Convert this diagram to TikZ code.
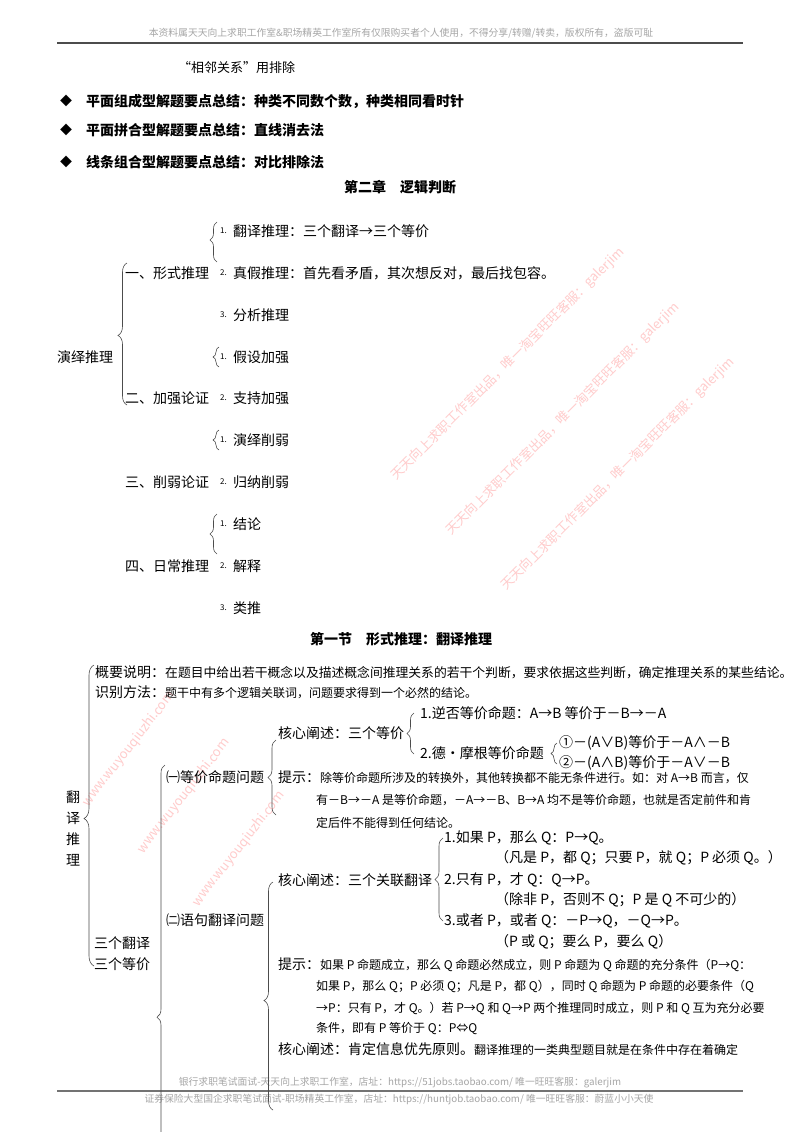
\documentclass[tikz,border=0pt]{standalone}
\usepackage{fontspec}
\setmainfont{Noto Sans CJK SC}
\usetikzlibrary{decorations.pathreplacing}
\newcommand\fs[1]{\fontsize{#1}{#1}\selectfont}
\tikzset{
 txt/.style={anchor=west, inner sep=0pt, font=\fs{14}},
 sml/.style={anchor=west, inner sep=0pt, font=\fs{12}},
 num/.style={anchor=west, inner sep=0pt, font=\fs{8}},
 head/.style={anchor=west, inner sep=0pt, font=\bfseries\fs{14}},
 brc/.style 2 args={decorate, decoration={brace, amplitude=#1, aspect=#2}, draw=black!70, line width=0.6pt},
 wmark/.style={anchor=east, inner sep=0pt, text=red!20, font=\fs{13}, rotate=45},
 wmurl/.style={anchor=west, inner sep=0pt, text=red!20, font=\fs{13}, rotate=52},
 graytxt/.style={inner sep=0pt, text=black!35, font=\fs{9.8}}
}
\begin{document}
\begin{tikzpicture}[x=1pt,y=-1pt]
\useasboundingbox (0,0) rectangle (800,1132);
\clip (0,0) rectangle (800,1132);
\fill[white] (0,0) rectangle (800,1132);

% ---------- watermarks ----------
\node[wmark] (w1) at (622,250) {天天向上求职工作室出品，唯一淘宝旺旺客服：galerjim};
\node[wmark] (w2) at (677,305) {天天向上求职工作室出品，唯一淘宝旺旺客服：galerjim};
\node[wmark] (w3) at (732,360) {天天向上求职工作室出品，唯一淘宝旺旺客服：galerjim};
\node[wmurl] (u1) at (85,805) {www.wuyouqiuzhi.com};
\node[wmurl] (u2) at (140,852) {www.wuyouqiuzhi.com};
\node[wmurl] (u3) at (195,905) {www.wuyouqiuzhi.com};

% ---------- header / footer ----------
\node[graytxt] (hdr) at (401,33) {本资料属天天向上求职工作室\&职场精英工作室所有仅限购买者个人使用，不得分享/转赠/转卖，版权所有，盗版可耻};
\coordinate (hl1) at (57,43); \coordinate (hl2) at (743,43);
\draw[black!70, line width=1.8pt] (hl1) -- (hl2);
\node[graytxt] (ft1) at (400,1083) {银行求职笔试面试-天天向上求职工作室，店址：https://51jobs.taobao.com/ 唯一旺旺客服：galerjim};
\coordinate (fl1) at (57,1091); \coordinate (fl2) at (743,1091);
\draw[black!55, line width=1.8pt] (fl1) -- (fl2);
\node[graytxt] (ft2) at (399,1100) {证券保险大型国企求职笔试面试-职场精英工作室，店址：https://huntjob.taobao.com/ 唯一旺旺客服：蔚蓝小小天使};

% ---------- top text ----------
\node[anchor=west, inner sep=0pt, font=\fs{13}] (adj) at (178,68) {“相邻关系”用排除};
\node[anchor=west, inner sep=0pt, font=\fs{12}] (d1) at (60,101) {◆};
\node[anchor=west, inner sep=0pt, font=\fs{12}] (d2) at (60,130) {◆};
\node[anchor=west, inner sep=0pt, font=\fs{12}] (d3) at (60,162) {◆};
\node[head] (h1) at (86,101) {平面组成型解题要点总结：种类不同数个数，种类相同看时针};
\node[head] (h2) at (86,130) {平面拼合型解题要点总结：直线消去法};
\node[head] (h3) at (86,162) {线条组合型解题要点总结：对比排除法};
\node[head] (ch2) at (344,187) {第二章　逻辑判断};

% ---------- diagram 1 ----------
\node[txt] (root) at (57,357) {演绎推理};
\node[txt] (k1) at (125,273) {一、形式推理};
\node[txt] (k2) at (125,398) {二、加强论证};
\node[txt] (k3) at (125,482) {三、削弱论证};
\node[txt] (k4) at (125,566) {四、日常推理};
\coordinate (B0t) at (127,263); \coordinate (B0b) at (127,405);
\draw[brc={9pt}{0.49}] (B0b) -- (B0t);

\node[num] (n11) at (220,231) {1.};
\node[txt] (i11) at (233,231) {翻译推理：三个翻译→三个等价};
\node[num] (n12) at (220,273) {2.};
\node[txt] (i12) at (233,273) {真假推理：首先看矛盾，其次想反对，最后找包容。};
\node[num] (n13) at (220,315) {3.};
\node[txt] (i13) at (233,315) {分析推理};
\coordinate (B1t) at (217,222); \coordinate (B1b) at (217,262);
\draw[brc={7pt}{0.55}] (B1b) -- (B1t);

\node[num] (n21) at (220,357) {1.};
\node[txt] (i21) at (233,357) {假设加强};
\node[num] (n22) at (220,398) {2.};
\node[txt] (i22) at (233,398) {支持加强};
\coordinate (B2t) at (219,347); \coordinate (B2b) at (219,367);
\draw[brc={6pt}{0.5}] (B2b) -- (B2t);

\node[num] (n31) at (220,440) {1.};
\node[txt] (i31) at (233,440) {演绎削弱};
\node[num] (n32) at (220,482) {2.};
\node[txt] (i32) at (233,482) {归纳削弱};
\coordinate (B3t) at (219,430); \coordinate (B3b) at (219,450);
\draw[brc={6pt}{0.5}] (B3b) -- (B3t);

\node[num] (n41) at (220,524) {1.};
\node[txt] (i41) at (233,524) {结论};
\node[num] (n42) at (220,566) {2.};
\node[txt] (i42) at (233,566) {解释};
\node[num] (n43) at (220,608) {3.};
\node[txt] (i43) at (233,608) {类推};
\coordinate (B4t) at (217,514); \coordinate (B4b) at (217,554);
\draw[brc={7pt}{0.5}] (B4b) -- (B4t);

\node[head] (sec1) at (310,639) {第一节　形式推理：翻译推理};

% ---------- diagram 2 ----------
\node[txt] (f1) at (66,797) {翻};
\node[txt] (f2) at (66,818) {译};
\node[txt] (f3) at (66,839) {推};
\node[txt] (f4) at (66,860) {理};
\coordinate (C0t) at (94,665); \coordinate (C0b) at (94,966);
\draw[brc={10pt}{0.49}] (C0b) -- (C0t);

\node[txt] (gy) at (95,672) {概要说明：{\fs{12.8}在题目中给出若干概念以及描述概念间推理关系的若干个判断，要求依据这些判断，确定推理关系的某些结论。}};
\node[txt] (sb) at (95,692) {识别方法：{\fs{12}题干中有多个逻辑关联词，问题要求得到一个必然的结论。}};
\node[txt] (sf1) at (94,943) {三个翻译};
\node[txt] (sf2) at (94,964) {三个等价};

\coordinate (C1t) at (165,765); \coordinate (C1b) at (165,1150);
\draw[brc={8pt}{0.345}] (C1b) -- (C1t);
\node[txt] (p1) at (166,777) {㈠等价命题问题};
\node[txt] (p2) at (166,920) {㈡语句翻译问题};

% (一)
\coordinate (C2t) at (276,740); \coordinate (C2b) at (276,815);
\draw[brc={8pt}{0.5}] (C2b) -- (C2t);
\node[txt] (hx1) at (278,733) {核心阐述：三个等价};
\coordinate (C3t) at (414,713); \coordinate (C3b) at (414,754);
\draw[brc={7pt}{0.5}] (C3b) -- (C3t);
\node[txt] (e1) at (420,713) {1.逆否等价命题：A→B 等价于－B→－A};
\node[txt] (e2) at (420,753) {2.德•摩根等价命题};
\coordinate (C4t) at (557,743); \coordinate (C4b) at (557,764);
\draw[brc={6pt}{0.5}] (C4b) -- (C4t);
\node[txt] (e21) at (559,743) {①－(A∨B)等价于－A∧－B};
\node[txt] (e22) at (559,763) {②－(A∧B)等价于－A∨－B};
\node[txt] (ts1) at (278,777) {提示：{\fs{12}除等价命题所涉及的转换外，其他转换都不能无条件进行。如：对 A→B 而言，仅}};
\node[sml] (ts1b) at (316,800) {有－B→－A 是等价命题，－A→－B、B→A 均不是等价命题，也就是否定前件和肯};
\node[sml] (ts1c) at (316,823) {定后件不能得到任何结论。};

% (二)
\coordinate (C5t) at (273,882); \coordinate (C5b) at (273,1110);
\draw[brc={9pt}{0.48}] (C5b) -- (C5t);
\node[txt] (hx2) at (278,880) {核心阐述：三个关联翻译};
\coordinate (C6t) at (443,838); \coordinate (C6b) at (443,921);
\draw[brc={8pt}{0.5}] (C6b) -- (C6t);
\node[txt] (r1) at (444,838) {1.如果 P，那么 Q：P→Q。};
\node[txt] (r1b) at (495,858) {（凡是 P，都 Q；只要 P，就 Q；P 必须 Q。）};
\node[txt] (r2) at (444,880) {2.只有 P，才 Q：Q→P。};
\node[txt] (r2b) at (495,900) {（除非 P，否则不 Q；P 是 Q 不可少的）};
\node[txt] (r3) at (444,921) {3.或者 P，或者 Q：－P→Q，－Q→P。};
\node[txt] (r3b) at (495,942) {（P 或 Q；要么 P，要么 Q）};
\node[txt] (ts2) at (278,965) {提示：{\fs{12}如果 P 命题成立，那么 Q 命题必然成立，则 P 命题为 Q 命题的充分条件（P→Q：}};
\node[sml] (ts2b) at (316,986) {如果 P，那么 Q；P 必须 Q；凡是 P，都 Q），同时 Q 命题为 P 命题的必要条件（Q};
\node[sml] (ts2c) at (316,1008) {→P：只有 P，才 Q。）若 P→Q 和 Q→P 两个推理同时成立，则 P 和 Q 互为充分必要};
\node[sml] (ts2d) at (316,1029) {条件，即有 P 等价于 Q：P⇔Q};
\node[txt] (hx3) at (278,1049) {核心阐述：肯定信息优先原则。{\fs{12}翻译推理的一类典型题目就是在条件中存在着确定}};
\end{tikzpicture}
\end{document}
